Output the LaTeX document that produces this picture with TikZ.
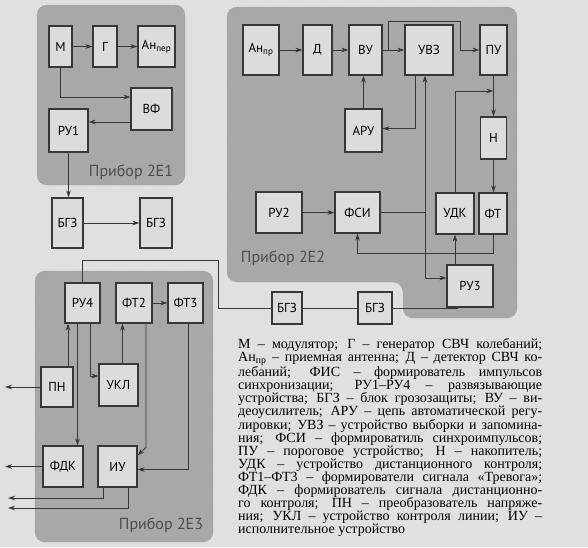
\documentclass[tikz,border=0pt]{standalone}
\usepackage{fontspec}
\setmainfont{Liberation Serif}
\newfontfamily\blokfont{PT Sans}
\usetikzlibrary{arrows.meta}
\definecolor{pozadie}{RGB}{224,224,222}
\definecolor{panel}{RGB}{168,168,166}
\definecolor{blokfill}{RGB}{220,220,218}
\definecolor{ciara}{RGB}{55,55,55}

\begin{document}
\begin{tikzpicture}[x=1pt, y=-1pt,
    blok/.style={draw=ciara, line width=1.1pt, fill=blokfill, inner sep=0pt,
        font=\blokfont\fontsize{13}{13}\selectfont},
    prip/.style={fill=panel, draw=black!55, densely dotted, rounded corners=10pt},
    spoj/.style={ciara, line width=0.8pt},
    sip/.style={spoj, -{Stealth[length=7pt,width=4.5pt]}},
    nazov/.style={font=\blokfont\fontsize{16}{16}\selectfont, text=black!70}
]

\fill[pozadie] (0,0) rectangle (588,547);
\useasboundingbox (0,0) rectangle (588,547);

% prístroje
\filldraw[prip] (37,5) rectangle (185,185);
\filldraw[prip] (227,7) -- (517,7) -- (517,318) -- (403,318) -- (403,282) -- (227,282) -- cycle;
\filldraw[prip] (35,271) rectangle (213,542);

% bloky 2E1
\node[blok, minimum width=23, minimum height=41] (M) at (60.5,46.5) {М};
\node[blok, minimum width=24, minimum height=41] (G) at (105,46.5) {Г};
\node[blok, minimum width=37, minimum height=41] (AnPer) at (156.5,46.5) {Ан\textsubscript{пер}};
\node[blok, minimum width=41, minimum height=42] (VF) at (151.5,109) {ВФ};
\node[blok, minimum width=39, minimum height=43] (RU1) at (68.5,130.5) {РУ1};
\node[blok, minimum width=31, minimum height=50] (BGZ1) at (67.5,223) {БГЗ};
\node[blok, minimum width=32, minimum height=50] (BGZ2) at (156,223) {БГЗ};

% bloky 2E2
\node[blok, minimum width=36, minimum height=50] (AnPr) at (261,50) {Ан\textsubscript{пр}};
\node[blok, minimum width=29, minimum height=50] (D) at (317.5,50) {Д};
\node[blok, minimum width=33, minimum height=50] (VU) at (365.5,50) {ВУ};
\node[blok, minimum width=48, minimum height=50] (UVZ) at (429,50) {УВЗ};
\node[blok, minimum width=27, minimum height=50] (PU) at (493.5,50) {ПУ};
\node[blok, minimum width=37, minimum height=43] (ARU) at (363.5,130.5) {АРУ};
\node[blok, minimum width=26, minimum height=42] (N) at (493.5,138) {Н};
\node[blok, minimum width=46, minimum height=41] (RU2) at (279,212.5) {РУ2};
\node[blok, minimum width=45, minimum height=41] (FSI) at (357.5,212.5) {ФСИ};
\node[blok, minimum width=38, minimum height=41] (UDK) at (455,213.5) {УДК};
\node[blok, minimum width=28, minimum height=41] (FT) at (493,213.5) {ФТ};
\node[blok, minimum width=46, minimum height=42] (RU3) at (470,286) {РУ3};

% bloky 2E3
\node[blok, minimum width=35, minimum height=40] (RU4) at (82.5,303) {РУ4};
\node[blok, minimum width=36, minimum height=40] (FT2) at (134,303) {ФТ2};
\node[blok, minimum width=35, minimum height=40] (FT3) at (185.5,303) {ФТ3};
\node[blok, minimum width=32, minimum height=40] (PN) at (57,387) {ПН};
\node[blok, minimum width=39, minimum height=42] (UKL) at (118.5,385) {УКЛ};
\node[blok, minimum width=40, minimum height=41] (FDK) at (63,466.5) {ФДК};
\node[blok, minimum width=39, minimum height=41] (IU) at (117.5,466.5) {ИУ};
\node[blok, minimum width=30, minimum height=32] (BGZ3) at (287,308) {БГЗ};
\node[blok, minimum width=34, minimum height=32] (BGZ4) at (375,308) {БГЗ};

\node[nazov] (P1) at (131,172) {Прибор 2Е1};
\node[nazov] (P2) at (283,258) {Прибор 2Е2};
\node[nazov] (P3) at (161,525) {Прибор 2Е3};

% voľné konce
\coordinate (VUo) at ([xshift=6pt]VU.east);
\coordinate (FSIo) at (425,212.5);
\coordinate (Nin) at (493.5,91);
\coordinate (vPN) at (5,387);
\coordinate (vFDK) at (5,466.5);
\coordinate (vIU1) at (8,498);
\coordinate (vIU2) at (8,508);

% spojenia 2E1
\draw[sip] (M) -- (G);
\draw[sip] (G) -- (AnPer);
\draw[sip] (M.south) |- ([yshift=12pt]VF.west);
\draw[sip] ([yshift=-13pt]VF.west) -- ([yshift=-13pt]VF.west -| RU1.east);
\draw[sip] (RU1.south) -- (RU1.south |- BGZ1.north);
\draw[sip] (BGZ1) -- (BGZ2);

% spojenia 2E2
\draw[sip] (AnPr) -- (D);
\draw[sip] (D) -- (VU);
\draw[sip] (VU) -- (UVZ);
\draw[sip] (VUo) |- (460,21) |- (PU.west);
\draw[sip] ([xshift=-14pt]UVZ.south) |- ([yshift=2pt]ARU.east);
\draw[sip] (ARU.north) -- (ARU.north |- VU.south);
\draw[spoj] (FSI.east) -- (FSIo);
\draw[sip] (FSIo) -- (FSIo |- UVZ.south);
\draw[sip] (FSIo) |- ([yshift=8pt]RU3.west);
\draw[sip] (RU2) -- (FSI);
\draw[sip] (PU.south) -- (PU.south |- N.north);
\draw[sip] (N.south) -- (N.south |- FT.north);
\draw[sip] (UDK.north) |- (Nin);
\draw[sip] (FT.south) -- (FT.south |- 0,253) -| (FSI.south);
\draw[sip] (RU3.north -| UDK.south) -- (UDK.south);
\draw[spoj] (BGZ4.east) -| ([xshift=-13pt]RU3.south);

% spojenia 2E3
\draw[spoj] (RU4.north) |- (218,260) |- (BGZ3.west);
\draw[spoj] (BGZ3) -- (BGZ4);
\draw[sip] (FT2) -- (FT3);
\draw[sip] ([xshift=11pt]PN.north) -- ([xshift=11pt]PN.north |- RU4.south);
\draw[sip] ([xshift=-5pt]RU4.south) -- ([xshift=-5pt]RU4.south |- FDK.north);
\draw[sip] ([xshift=7.5pt]RU4.south) |- ([yshift=9pt]UKL.west);
\draw[sip] ([xshift=4pt]UKL.north) -- ([xshift=4pt]UKL.north |- FT2.south);
\draw[sip] ([xshift=12pt]FT2.south) -- ++(0,124) -- ([yshift=-10pt]IU.north east);
\draw[sip] ([xshift=2.5pt]FT3.south) |- ([yshift=-3pt]IU.east);
\draw[sip] (PN) -- (vPN);
\draw[sip] (FDK) -- (vFDK);
\draw[sip] ([xshift=-14.5pt]IU.south) |- (vIU1);
\draw[sip] ([xshift=10.5pt]IU.south) |- (vIU2);

% legenda
\node[anchor=north west, text width=304pt, align=justify, inner sep=0pt,
    font=\fontsize{14}{13.1}\selectfont] (legenda) at (238,338) {%
М – модулятор; Г – генератор СВЧ колебаний;\linebreak
Ан\textsubscript{пр} – приемная антенна; Д – детектор СВЧ ко-\linebreak
лебаний; ФИС – формирователь импульсов\linebreak
синхронизации; РУ1–РУ4 – развязывающие\linebreak
устройства; БГЗ – блок грозозащиты; ВУ – ви-\linebreak
деоусилитель; АРУ – цепь автоматической регу-\linebreak
лировки; УВЗ – устройство выборки и запомина-\linebreak
ния; ФСИ – формироватиль синхроимпульсов;\linebreak
ПУ – пороговое устройство; Н – накопитель;\linebreak
УДК – устройство дистанционного контроля;\linebreak
ФТ1–ФТ3 – формирователи сигнала «Тревога»;\linebreak
ФДК – формирователь сигнала дистанционно-\linebreak
го контроля; ПН – преобразователь напряже-\linebreak
ния; УКЛ – устройство контроля линии; ИУ –\linebreak
исполнительное устройство};

\end{tikzpicture}
\end{document}
